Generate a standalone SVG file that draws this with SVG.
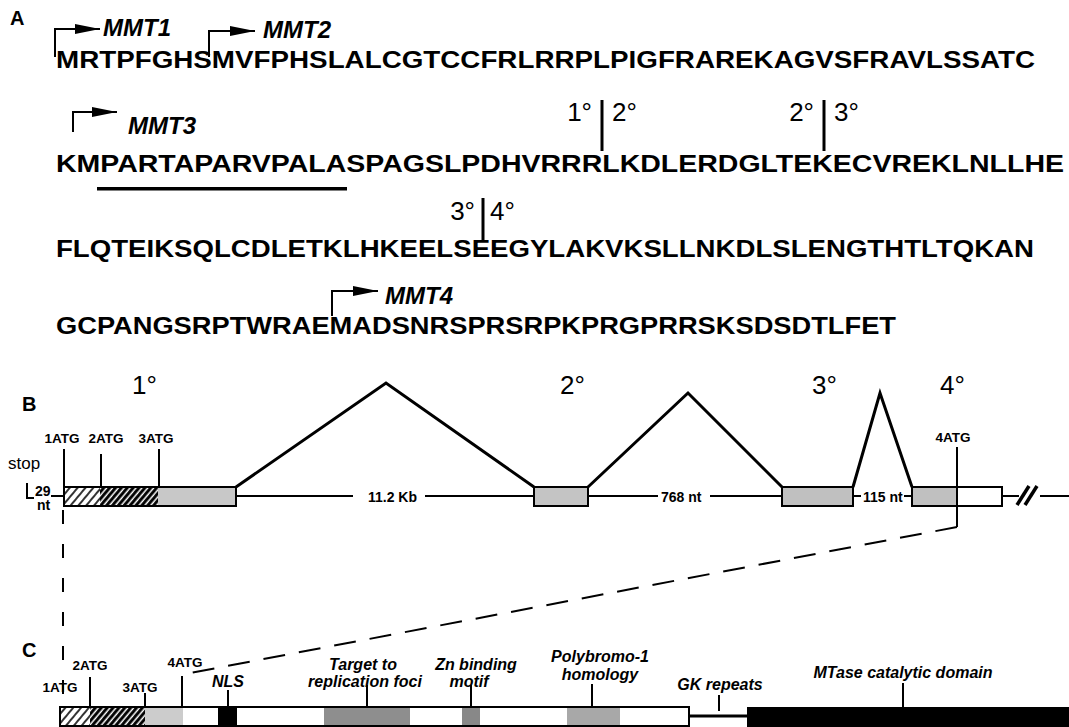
<svg xmlns="http://www.w3.org/2000/svg" width="1069" height="727" viewBox="0 0 1069 727">
<defs>
<style>
text{font-family:"Liberation Sans",Arial,Helvetica,sans-serif;fill:#000}
.seq{font-weight:bold;font-size:24px}
.mmt{font-weight:bold;font-style:italic;font-size:24px}
.deg{font-size:26px}
.pl{font-weight:bold;font-size:20px}
.atg{font-weight:bold;font-size:13.5px;text-anchor:middle}
.sm{font-weight:bold;font-size:14px}
.dom{font-weight:bold;font-style:italic;font-size:16px;text-anchor:middle}
.ln{stroke:#000;stroke-width:2;fill:none}
.thk{stroke:#000;stroke-width:3;fill:none}
.box{stroke:#000;stroke-width:2}
.dash{stroke:#000;stroke-width:2;fill:none}
</style>
<marker id="arr" markerUnits="userSpaceOnUse" markerWidth="26" markerHeight="12" refX="25" refY="5" orient="auto">
<path d="M0,0 L25,5 L0,10 z" fill="#000"/>
</marker>
<pattern id="hatchL" width="6" height="6" patternUnits="userSpaceOnUse" patternTransform="rotate(40)">
<rect width="6" height="6" fill="#fff"/>
<line x1="1" y1="0" x2="1" y2="6" stroke="#000" stroke-width="1.6"/>
</pattern>
<pattern id="hatchD" width="4.5" height="4.5" patternUnits="userSpaceOnUse" patternTransform="rotate(40)">
<rect width="4.5" height="4.5" fill="#fff"/>
<line x1="1.6" y1="0" x2="1.6" y2="4.5" stroke="#000" stroke-width="3"/>
</pattern>
</defs>
<rect width="1069" height="727" fill="#fff"/>

<g id="panelA">
<text class="pl" x="10" y="25">A</text>
<g id="mmt1"><path class="ln" d="M55,57 V29 H100" marker-end="url(#arr)"/><text class="mmt" x="103" y="36">MMT1</text></g>
<g id="mmt2"><path class="ln" d="M209,57 V31 H255" marker-end="url(#arr)"/><text class="mmt" x="263" y="38">MMT2</text></g>
<g id="seq1"><text class="seq" x="56" y="68" textLength="979" lengthAdjust="spacingAndGlyphs">MRTPFGHSMVFPHSLALCGTCCFRLRRPLPIGFRAREKAGVSFRAVLSSATC</text></g>
<g id="mmt3"><path class="ln" d="M73,132 V112 H117" marker-end="url(#arr)"/><text class="mmt" x="128" y="134">MMT3</text></g>
<g id="j12"><text class="deg" x="592" y="121" text-anchor="end">1°</text><line class="thk" x1="602" y1="100" x2="602" y2="151"/><text class="deg" x="612" y="121">2°</text></g>
<g id="j23"><text class="deg" x="814" y="121" text-anchor="end">2°</text><line class="thk" x1="824" y1="100" x2="824" y2="151"/><text class="deg" x="834" y="121">3°</text></g>
<g id="seq2"><text class="seq" x="56" y="172" textLength="1008" lengthAdjust="spacingAndGlyphs">KMPARTAPARVPALASPAGSLPDHVRRRLKDLERDGLTEKECVREKLNLLHE</text>
<rect x="97" y="187" width="250" height="3.5" fill="#000"/></g>
<g id="j34"><text class="deg" x="475" y="220" text-anchor="end">3°</text><line class="thk" x1="483" y1="198" x2="483" y2="240"/><text class="deg" x="490" y="220">4°</text></g>
<g id="seq3"><text class="seq" x="56" y="257" textLength="978" lengthAdjust="spacingAndGlyphs">FLQTEIKSQLCDLETKLHKEELSEEGYLAKVKSLLNKDLSLENGTHTLTQKAN</text></g>
<g id="mmt4"><path class="ln" d="M332,316 V291 H378" marker-end="url(#arr)"/><text class="mmt" x="385" y="304">MMT4</text></g>
<g id="seq4"><text class="seq" x="56" y="334" textLength="840" lengthAdjust="spacingAndGlyphs">GCPANGSRPTWRAEMADSNRSPRSRPKPRGPRRSKSDSDTLFET</text></g>
</g>

<g id="connectors">
<polyline class="thk" points="236,487 386,383 534,487"/>
<polyline class="thk" points="588,487 688,393 782,487"/>
<polyline class="thk" points="853,487 880,393 912,487"/>
<line class="ln" x1="51" y1="496" x2="64" y2="496"/>
<line class="ln" x1="236" y1="496" x2="353" y2="496"/>
<line class="ln" x1="425" y1="496" x2="534" y2="496"/>
<line class="ln" x1="588" y1="496" x2="658" y2="496"/>
<line class="ln" x1="710" y1="496" x2="782" y2="496"/>
<line class="ln" x1="853" y1="496" x2="861" y2="496"/>
<line class="ln" x1="904" y1="496" x2="912" y2="496"/>
<line class="ln" x1="1002" y1="496" x2="1019" y2="496"/>
<line class="ln" x1="1040" y1="496" x2="1069" y2="496"/>
<line x1="1017" y1="505" x2="1029" y2="486" stroke="#000" stroke-width="3.5"/>
<line x1="1025" y1="505" x2="1037" y2="486" stroke="#000" stroke-width="3.5"/>
<line class="dash" x1="63" y1="510" x2="63" y2="707" stroke-dasharray="14 20"/>
<line class="ln" x1="957" y1="506" x2="957" y2="527"/>
<line class="dash" x1="957" y1="527" x2="185" y2="674" stroke-dasharray="22 14"/>
<line class="thk" x1="689" y1="716" x2="747" y2="716"/>
</g>

<g id="panelB">
<text class="pl" x="22" y="411">B</text>
<text class="deg" x="132" y="394" font-size="27">1°</text>
<text class="deg" x="560" y="394" font-size="27">2°</text>
<text class="deg" x="812" y="394" font-size="27">3°</text>
<text class="deg" x="940" y="394" font-size="27">4°</text>
<g id="stop"><text x="8" y="469" font-size="17">stop</text>
<path class="ln" d="M27,483 V498 H34"/>
<text class="sm" x="35" y="496" font-size="12">29</text>
<text class="sm" x="37" y="510" font-size="13">nt</text></g>
<g id="exon1">
<rect x="64" y="487" width="36" height="19" fill="url(#hatchL)"/>
<rect x="100" y="487" width="58" height="19" fill="url(#hatchD)"/>
<rect x="158" y="487" width="78" height="19" fill="#c8c8c8"/>
<rect class="box" x="64" y="487" width="172" height="19" fill="none"/>
<line class="ln" x1="64" y1="449" x2="64" y2="487"/>
<line class="ln" x1="101" y1="454" x2="101" y2="487"/>
<line class="ln" x1="159" y1="449" x2="159" y2="487"/>
<text class="atg" x="62" y="443">1ATG</text>
<text class="atg" x="106" y="443">2ATG</text>
<text class="atg" x="156" y="443">3ATG</text>
</g>
<text class="sm" x="368" y="502">11.2 Kb</text>
<g id="exon2"><rect class="box" x="534" y="487" width="54" height="19" fill="#c4c4c4"/></g>
<text class="sm" x="661" y="502">768 nt</text>
<g id="exon3"><rect class="box" x="782" y="487" width="71" height="19" fill="#c0c0c0"/></g>
<text class="sm" x="863" y="502">115 nt</text>
<g id="exon4">
<rect x="912" y="487" width="45" height="19" fill="#c0c0c0"/>
<rect class="box" x="912" y="487" width="90" height="19" fill="none"/>
<line class="ln" x1="957" y1="447" x2="957" y2="506"/>
<text class="atg" x="953" y="442">4ATG</text>
</g>
</g>

<g id="panelC">
<text class="pl" x="22" y="657">C</text>
<g id="bar">
<rect x="60" y="707" width="30" height="19" fill="url(#hatchL)"/>
<rect x="90" y="707" width="55" height="19" fill="url(#hatchD)"/>
<rect x="145" y="707" width="38" height="19" fill="#cccccc"/>
<rect x="218" y="707" width="19" height="19" fill="#000"/>
<rect x="324" y="707" width="86" height="19" fill="#8e8e8e"/>
<rect x="462" y="707" width="18" height="19" fill="#888"/>
<rect x="567" y="707" width="53" height="19" fill="#a8a8a8"/>
<rect class="box" x="60" y="707" width="629" height="19" fill="none"/>
<rect x="747" y="707" width="322" height="20" fill="#000"/>
</g>
<g id="ticksC">
<line class="ln" x1="90" y1="677" x2="90" y2="707"/>
<line class="ln" x1="145" y1="693" x2="145" y2="707"/>
<line class="ln" x1="182" y1="676" x2="182" y2="707"/>
<line class="ln" x1="228" y1="690" x2="228" y2="707"/>
<line class="ln" x1="367" y1="685" x2="367" y2="707"/>
<line class="ln" x1="471" y1="685" x2="471" y2="707"/>
<line class="ln" x1="592" y1="684" x2="592" y2="707"/>
<line class="ln" x1="719" y1="695" x2="719" y2="711"/>
<line class="ln" x1="903" y1="683" x2="903" y2="707"/>
</g>
<text class="atg" x="60" y="692">1ATG</text>
<text class="atg" x="90" y="670">2ATG</text>
<text class="atg" x="140" y="692">3ATG</text>
<text class="atg" x="185" y="667">4ATG</text>
<text class="dom" x="228" y="687" font-size="20">NLS</text>
<text class="dom" x="363" y="670">Target to</text>
<text class="dom" x="365" y="687">replication foci</text>
<text class="dom" x="476" y="670">Zn binding</text>
<text class="dom" x="469" y="687">motif</text>
<text class="dom" x="600" y="662">Polybromo-1</text>
<text class="dom" x="600" y="680">homology</text>
<text class="dom" x="720" y="690">GK repeats</text>
<text class="dom" x="903" y="678">MTase catalytic domain</text>
</g>
</svg>
